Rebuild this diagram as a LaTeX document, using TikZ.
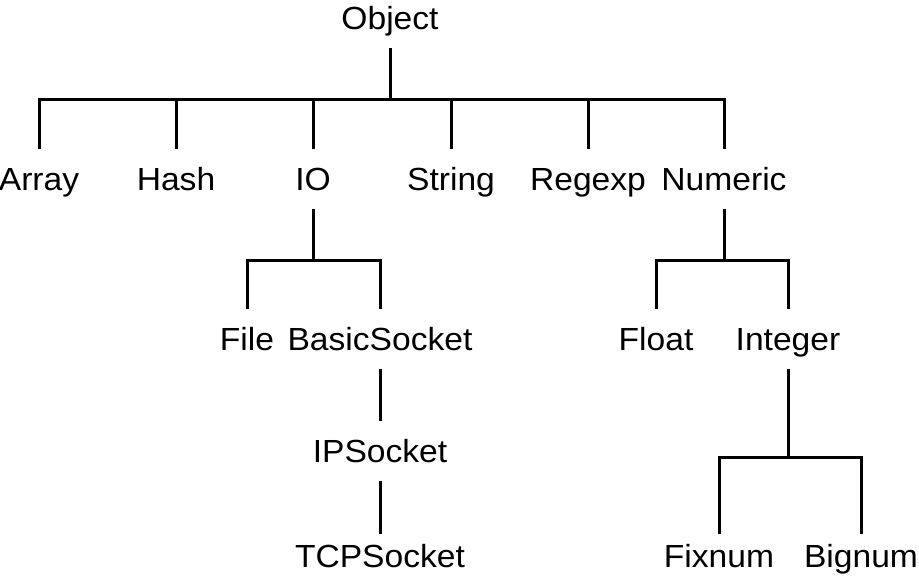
\documentclass[tikz,border=0pt]{standalone}
\usepackage{fontspec}
\setmainfont{Liberation Sans}[FakeStretch=1.05]
\usepackage{tikz}
\definecolor{TreeInk}{HTML}{000000}

\begin{document}
\begin{tikzpicture}[x=1pt,y=-1pt,
    cls/.style={anchor=base, inner xsep=0pt, inner ysep=19pt, text height=22pt, text depth=0pt,
      text=TreeInk, font=\fontsize{32pt}{38pt}\selectfont},
    leaf/.style={cls, inner ysep=11pt},
    link/.style={draw=TreeInk, line width=3pt}]
  \useasboundingbox (0,0) rectangle (919,584);
  % classes
  \node[cls] (object) at (390,29) {Object};
  \node[cls] (array) at (39,190) {Array};
  \node[cls] (hash) at (176,190) {Hash};
  \node[cls] (io) at (313,190) {IO};
  \node[cls] (string) at (451,190) {String};
  \node[cls] (regexp) at (588,190) {Regexp};
  \node[cls] (numeric) at (724,190) {Numeric};
  \node[cls] (file) at (247,350) {File};
  \node[cls] (basicsock) at (380,350) {BasicSocket};
  \node[cls] (ipsock) at (380,462) {IPSocket};
  \node[leaf] (tcpsock) at (380,567) {TCPSocket};
  \node[cls] (float) at (656,350) {Float};
  \node[cls] (integer) at (788,350) {Integer};
  \node[leaf] (fixnum) at (719,567) {Fixnum};
  \node[leaf] (bignum) at (861,567) {Bignum};
  % branch points
  \coordinate (objbar) at (390,99);
  \coordinate (iobar) at (313,260);
  \coordinate (numbar) at (724,260);
  \coordinate (intbar) at (788,457);
  % links
  \draw[link] (object) -- (objbar);
  \foreach \c in {array,hash,io,string,regexp,numeric}
    \draw[link] (\c) |- (objbar);
  \draw[link] (io) -- (iobar);
  \draw[link] (file) |- (iobar);
  \draw[link] (basicsock) |- (iobar);
  \draw[link] (basicsock) -- (ipsock);
  \draw[link] (ipsock) -- (tcpsock);
  \draw[link] (numeric) -- (numbar);
  \draw[link] (float) |- (numbar);
  \draw[link] (integer) |- (numbar);
  \draw[link] (integer) -- (intbar);
  \draw[link] (fixnum) |- (intbar);
  \draw[link] (bignum) |- (intbar);
\end{tikzpicture}
\end{document}
